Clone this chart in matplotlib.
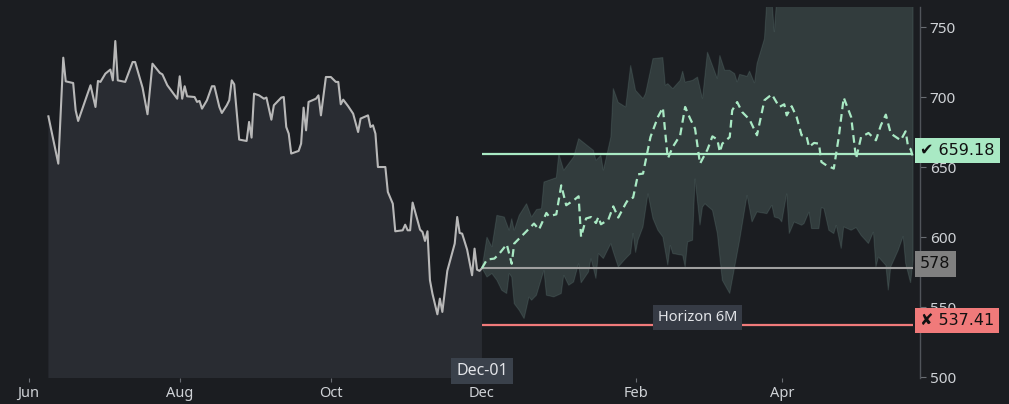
"""Price history with a 6-month forecast band, median path and target levels."""
import numpy as np
import matplotlib
matplotlib.use("Agg")
import matplotlib.pyplot as plt
import matplotlib.dates as mdates
import matplotlib.transforms as mtransforms

plt.rcParams["font.family"] = ["Noto Sans", "DejaVu Sans"]

ANCHOR = np.datetime64("2024-12-01")

# history, days relative to the anchor date
hist_days = [-175, -171, -169, -168, -165, -164, -163, -158, -156, -155,
             -154, -152, -150, -149, -148, -147, -144, -141, -140, -137,
             -135, -133, -130, -129, -127, -125, -123, -122, -121, -120,
             -119, -116, -115, -114, -113, -111, -109, -108, -106, -105,
             -103, -102, -101, -100, -98, -95, -94, -93, -92, -90,
             -88, -87, -85, -84, -81, -80, -79, -78, -77, -74,
             -73, -72, -71, -70, -67, -66, -65, -63, -61, -59,
             -58, -57, -56, -54, -52, -50, -49, -46, -45, -44,
             -43, -42, -39, -38, -36, -35, -32, -31, -30, -29,
             -28, -25, -24, -23, -22, -21, -20, -18, -17, -16,
             -14, -11, -10, -9, -8, -6, -4, -3, -2, -1, 0]
hist_price = [686.4, 652.6, 728.3, 711.4, 710.2, 690.7, 683.1, 708.6, 693.1, 711.7,
              711.0, 716.9, 719.8, 712.1, 740.2, 712.1, 711.0, 725.2, 725.2, 706.9,
              687.9, 724.0, 717.4, 716.4, 708.6, 703.8, 699.0, 715.0, 699.0, 707.9,
              700.7, 700.2, 696.7, 697.4, 691.9, 697.9, 707.9, 707.9, 693.1, 688.8,
              694.3, 697.9, 712.1, 709.3, 669.8, 668.8, 682.4, 671.2, 702.6, 701.4,
              699.0, 699.8, 684.0, 694.3, 699.8, 700.2, 678.8, 674.0, 659.8, 661.7,
              666.9, 692.6, 676.4, 696.7, 699.0, 701.4, 687.1, 714.5, 714.5, 711.0,
              711.0, 695.0, 698.3, 693.6, 688.3, 675.2, 684.8, 687.1, 678.8, 680.0,
              674.0, 650.2, 650.2, 632.4, 624.0, 604.3, 605.0, 609.0, 605.0, 605.0,
              624.8, 605.5, 603.8, 597.4, 604.3, 569.3, 559.8, 545.0, 556.2, 546.7,
              576.0, 595.5, 614.5, 603.1, 602.6, 591.2, 572.9, 591.9, 576.9, 576.0, 578.0]

# forecast median path
med_days = [0, 2, 5, 7, 10, 12, 13, 15, 17, 19,
            21, 23, 26, 27, 30, 32, 34, 37, 39, 40,
            42, 44, 46, 47, 48, 51, 53, 55, 58, 59,
            61, 63, 65, 68, 71, 73, 75, 77, 80, 82,
            84, 86, 88, 91, 93, 95, 96, 97, 100, 101,
            103, 105, 108, 111, 114, 117, 120, 122, 123, 125,
            127, 129, 131, 132, 134, 136, 137, 139, 142, 144,
            146, 149, 151, 153, 156, 159, 161, 163, 165, 169,
            171, 172, 173, 174]
med_price = [578.0, 584.1, 584.8, 588.3, 595.0, 581.1, 595.5, 599.1, 602.6, 606.2,
             609.8, 605.5, 617.4, 615.0, 616.4, 637.1, 622.9, 626.4, 629.3, 600.2,
             613.4, 614.5, 610.2, 614.5, 609.3, 612.6, 622.1, 614.1, 624.1, 626.9,
             628.4, 645.0, 645.5, 671.6, 685.9, 692.6, 656.2, 664.5, 672.9, 693.1,
             684.8, 677.6, 652.6, 662.6, 672.1, 669.8, 660.9, 666.9, 671.6, 690.7,
             696.6, 689.5, 684.1, 672.9, 697.9, 702.1, 693.1, 695.0, 687.1, 693.6,
             685.9, 672.9, 672.1, 664.5, 667.4, 666.9, 653.8, 651.4, 649.1, 671.6,
             699.8, 685.9, 656.2, 671.6, 674.5, 669.3, 680.0, 687.6, 674.1, 669.3,
             675.7, 664.5, 663.0, 657.0]

# forecast band, upper edge
up_days = [0, 2, 4, 6, 9, 11, 12, 13, 15, 18,
           20, 22, 24, 25, 30, 31, 33, 37, 39, 45,
           46, 48, 49, 52, 53, 55, 58, 60, 62, 65,
           66, 69, 73, 74, 75, 77, 80, 81, 82, 85,
           87, 89, 91, 95, 96, 98, 100, 102, 103, 104,
           107, 108, 110, 111, 114, 115, 117, 118, 119, 130,
           150, 174]
up_price = [578.0, 600.2, 593.1, 615.7, 614.5, 605.0, 613.4, 605.0, 615.7, 624.1,
            614.5, 619.8, 620.5, 639.5, 642.6, 659.8, 647.9, 657.4, 670.5, 662.1,
            655.0, 658.6, 647.9, 671.6, 706.4, 696.4, 693.1, 722.9, 705.0, 699.1,
            702.6, 727.6, 728.4, 708.6, 709.8, 706.2, 712.1, 718.8, 710.9, 712.1,
            714.5, 699.1, 732.4, 713.4, 730.0, 719.3, 719.3, 716.9, 710.9, 716.4,
            715.0, 718.8, 710.2, 724.1, 741.9, 770.0, 770.0, 746.6, 772.0, 790.0,
            800.0, 805.0]

# forecast band, lower edge
lo_days = [0, 2, 4, 6, 8, 10, 11, 12, 13, 15,
           17, 19, 20, 22, 25, 26, 29, 32, 33, 35,
           37, 39, 40, 43, 44, 46, 47, 49, 52, 53,
           55, 58, 60, 61, 62, 63, 65, 67, 69, 71,
           73, 75, 76, 77, 81, 82, 83, 85, 86, 88,
           89, 90, 93, 95, 97, 100, 102, 104, 107, 109,
           111, 115, 117, 118, 120, 121, 123, 124, 126, 129,
           130, 132, 133, 136, 137, 138, 140, 142, 143, 145,
           146, 149, 151, 153, 156, 158, 159, 160, 163, 164,
           165, 168, 170, 171, 173, 174]
lo_price = [578.0, 571.6, 574.1, 569.3, 562.1, 559.8, 574.1, 571.6, 552.6, 547.9,
            541.9, 557.4, 555.0, 558.6, 576.4, 558.6, 557.4, 559.8, 572.9, 565.7,
            568.1, 581.2, 567.4, 575.2, 584.8, 570.5, 588.4, 584.8, 595.5, 589.5,
            578.8, 584.8, 588.4, 603.0, 589.0, 598.0, 607.4, 631.2, 613.4, 605.0,
            600.2, 580.0, 594.3, 588.4, 587.1, 578.8, 596.6, 597.9, 641.9, 608.6,
            621.6, 623.9, 619.3, 602.6, 569.3, 559.8, 578.8, 597.9, 630.0, 610.9,
            618.1, 616.9, 622.9, 614.5, 613.4, 610.9, 631.2, 602.6, 610.9, 608.6,
            609.8, 618.1, 606.2, 606.2, 621.2, 620.5, 605.0, 602.6, 608.6, 591.9,
            607.4, 605.0, 606.9, 601.4, 595.5, 603.8, 578.8, 585.9, 580.0, 562.1,
            578.8, 590.7, 600.7, 581.2, 567.4, 583.6]

HORIZON_DAYS = 174
target_up = 659.18
spot = 578
target_down = 537.41

BG = "#1b1d21"
HIST_FILL = "#292c32"
MINT = "#a9e9c4"
RED = "#f07a7a"
GREY = "#a0a0a0"
TXT = "#cfd2d6"


def to_dates(days):
    return ANCHOR + np.array(days) * np.timedelta64(1, "D")


fig = plt.figure(figsize=(10.09, 4.04), dpi=100, facecolor=BG)
ax = fig.add_axes([10 / 1009, 26 / 404, 910 / 1009, 371 / 404])
ax.set_facecolor(BG)

# history
hx = to_dates(hist_days)
ax.fill_between(hx, hist_price, 0, color=HIST_FILL, lw=0, zorder=1)
ax.plot(hx, hist_price, color="#b8b8b8", lw=1.5, zorder=4)

# forecast band
band_x = np.concatenate([to_dates(up_days), to_dates(lo_days)[::-1]])
band_y = np.concatenate([up_price, lo_price[::-1]])
ax.fill(band_x, band_y, facecolor="#a6d8cc", alpha=0.17, edgecolor="none", zorder=2)
ax.fill(band_x, band_y, facecolor="none", edgecolor="#a6d8cc", alpha=0.12, lw=0.8, zorder=2)

end = ANCHOR + np.timedelta64(HORIZON_DAYS, "D")
ax.hlines(target_up, ANCHOR, end, color=MINT, lw=1.6, zorder=3)
ax.hlines(spot, ANCHOR, end, color=GREY, lw=1.5, zorder=3)
ax.hlines(target_down, ANCHOR, end, color=RED, lw=1.6, zorder=3)

ax.plot(to_dates(med_days), med_price, color=MINT, lw=1.6,
        linestyle=(0, (3.5, 2.2)), zorder=5)

# axes
ax.set_ylim(499.5, 764.5)
ax.set_xlim(ANCHOR - np.timedelta64(4572, "h"), ANCHOR + np.timedelta64(4243, "h"))
ax.yaxis.tick_right()
ax.set_yticks([500, 550, 600, 650, 700, 750])
ax.xaxis.set_major_locator(mdates.MonthLocator(bymonth=[2, 4, 6, 8, 10, 12]))
ax.xaxis.set_major_formatter(mdates.DateFormatter("%b"))
ax.tick_params(axis="y", colors=TXT, labelsize=11, length=4, width=0.8, pad=3,
               color="#6a6e74")
ax.tick_params(axis="x", colors=TXT, labelsize=10.5, length=3, width=0.8, pad=3,
               color="#6a6e74")
for side in ["left", "top", "bottom"]:
    ax.spines[side].set_visible(False)
ax.spines["right"].set_color("#50545a")
ax.spines["right"].set_linewidth(1.0)

# right-hand level labels
trans = mtransforms.blended_transform_factory(ax.transAxes, ax.transData)
levels = [
    (target_up, "\u2714 659.18", MINT),
    (spot, "578", "#808080"),
    (target_down, "\u2718 537.41", RED),
]
for val, label, col in levels:
    ax.annotate(label, xy=(1.0, val), xycoords=trans, xytext=(0, 3),
                textcoords="offset points", ha="left", va="center",
                fontsize=11.5, color="#111111", family=["DejaVu Sans"],
                bbox=dict(boxstyle="square,pad=0.32", fc=col, ec="none"),
                annotation_clip=False, zorder=10)

ax.text(ANCHOR + np.timedelta64(HORIZON_DAYS // 2, "D"), 542.7, "Horizon 6M",
        ha="center", va="center", fontsize=10.5, color="#e2e4e8", zorder=9,
        bbox=dict(boxstyle="square,pad=0.35", fc="#363b45", ec="none"))
ax.text(ANCHOR, 504.6, "Dec-01", ha="center", va="center", fontsize=11.5,
        color="#e2e4e8", zorder=9, clip_on=False,
        bbox=dict(boxstyle="square,pad=0.3", fc="#3a414b", ec="none"))

fig.savefig("out.png", dpi=100, facecolor=BG)
